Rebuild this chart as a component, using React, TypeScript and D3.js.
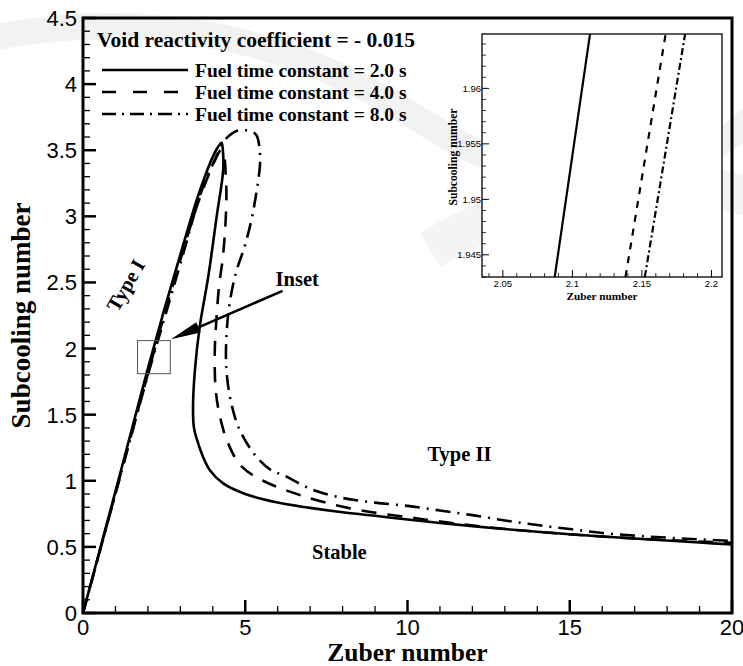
import React from "react";
import * as d3 from "d3";

const W = 743;
const H = 666;

// Stability boundaries in the Zuber–subcooling plane, one loop per fuel time constant
const zuberTau2 = [0, 0.5, 1.0, 1.5, 2.0, 2.5, 3.0, 3.5, 3.8, 4.0, 4.15, 4.27, 4.31, 4.32, 4.12, 3.86, 3.6, 3.45, 3.39, 3.42, 3.5, 3.7, 3.91, 4.32, 5.0, 6.0, 7.0, 8.0, 9.0, 10, 11, 12, 13, 14, 15, 16, 17, 18, 19, 20];
const subTau2 = [0, 0.46, 0.92, 1.385, 1.85, 2.29, 2.71, 3.12, 3.33, 3.45, 3.52, 3.557, 3.5, 3.35, 3.0, 2.544, 2.17, 1.84, 1.54, 1.4, 1.32, 1.18, 1.08, 0.98, 0.9, 0.835, 0.795, 0.762, 0.735, 0.707, 0.681, 0.657, 0.635, 0.614, 0.596, 0.579, 0.563, 0.548, 0.533, 0.518];

const zuberTau4 = [0, 1.0, 2.0, 2.5, 3.0, 3.5, 3.9, 4.1, 4.25, 4.35, 4.4, 4.42, 4.38, 4.3, 4.2, 4.11, 4.06, 4.09, 4.22, 4.47, 4.88, 5.55, 6.68, 8.22, 10.27, 12.32, 14.37, 16.42, 18.0, 20];
const subTau4 = [0, 0.905, 1.81, 2.25, 2.67, 3.07, 3.33, 3.44, 3.5, 3.45, 3.3, 3.16, 2.9, 2.67, 2.49, 2.216, 1.967, 1.687, 1.485, 1.284, 1.11, 1.0, 0.893, 0.792, 0.716, 0.653, 0.607, 0.572, 0.552, 0.53];

const zuberTau8 = [0, 1.0, 2.0, 2.5, 3.0, 3.65, 4.01, 4.3, 4.47, 4.78, 5.14, 5.34, 5.45, 5.45, 5.34, 5.19, 4.98, 4.72, 4.52, 4.42, 4.42, 4.57, 4.83, 5.34, 5.8, 6.2, 7.0, 8.0, 9.0, 10, 11, 12, 13, 14, 15, 16, 17, 18, 19, 20];
const subTau8 = [0, 0.9, 1.8, 2.22, 2.64, 3.19, 3.4, 3.55, 3.603, 3.65, 3.645, 3.616, 3.48, 3.376, 3.175, 2.973, 2.771, 2.58, 2.343, 2.09, 1.838, 1.586, 1.384, 1.182, 1.08, 1.04, 0.94, 0.87, 0.835, 0.81, 0.775, 0.74, 0.7, 0.665, 0.635, 0.605, 0.585, 0.57, 0.557, 0.545];

// Close-up near Zuber ≈ 2.1, subcooling ≈ 1.95
const insetSub = [1.943, 1.965];
const insetZuberTau2 = [2.0873, 2.1128];
const insetZuberTau4 = [2.1382, 2.1672];
const insetZuberTau8 = [2.1521, 2.1812];

const xTicks = [0, 5, 10, 15, 20];
const yTicks = [0, 0.5, 1, 1.5, 2, 2.5, 3, 3.5, 4, 4.5];
const insetXTicks = [2.05, 2.1, 2.15, 2.2];
const insetYTicks = [1.945, 1.95, 1.955, 1.96];

const legendTitle = "Void reactivity coefficient = - 0.015";
const legendLabels = ["Fuel time constant = 2.0 s", "Fuel time constant = 4.0 s", "Fuel time constant = 8.0 s"];

// Zoom window marked on the main plot, and the pointer to it
const windowZuber = [1.68, 2.69];
const windowSub = [1.81, 2.06];
const arrowFrom = [6.15, 2.436];
const arrowTo = [2.71, 2.07];

const serif = "'Liberation Serif', 'Times New Roman', serif";
const sans = "'Liberation Sans', Arial, sans-serif";

const curveDash = ["none", "15 11", "15 7 2 7"];
const legendDash = ["none", "14 17", "14 6 2 6"];

export default function App() {
  const x = d3.scaleLinear().domain([0, 20]).range([83, 732]);
  const y = d3.scaleLinear().domain([0, 4.5]).range([613, 18]);

  const ix = d3.scaleLinear().domain([2.035, 2.2076]).range([482, 722]);
  const iy = d3.scaleLinear().domain([1.943, 1.9649]).range([277, 34]);

  const line = d3
    .line<[number, number]>()
    .x((d) => x(d[0]))
    .y((d) => y(d[1]))
    .curve(d3.curveCatmullRom.alpha(0.5));

  const series = [
    d3.zip(zuberTau2, subTau2) as [number, number][],
    d3.zip(zuberTau4, subTau4) as [number, number][],
    d3.zip(zuberTau8, subTau8) as [number, number][],
  ];
  const insetSeries = [insetZuberTau2, insetZuberTau4, insetZuberTau8];

  const xMinor = d3.range(0, 20.001, 1).filter((v) => v % 5 !== 0);
  const yMinor = d3.range(0, 4.5001, 0.1).filter((v) => Math.abs(v * 2 - Math.round(v * 2)) > 1e-6);
  const ixMinor = d3.range(2.04, 2.2076, 0.01).filter((v) => Math.abs(v * 20 - Math.round(v * 20)) > 1e-6);
  const iyMinor = d3.range(1.943, 1.9649, 0.001).filter((v) => Math.abs(v * 200 - Math.round(v * 200)) > 1e-6);

  // Arrow geometry
  const ax0 = x(arrowFrom[0]);
  const ay0 = y(arrowFrom[1]);
  const ax1 = x(arrowTo[0]);
  const ay1 = y(arrowTo[1]);
  const ang = Math.atan2(ay1 - ay0, ax1 - ax0);
  const headLen = 30;
  const headHalf = 5.5;
  const bx = ax1 - headLen * Math.cos(ang);
  const by = ay1 - headLen * Math.sin(ang);
  const head = [
    [ax1, ay1],
    [bx + headHalf * Math.sin(ang), by - headHalf * Math.cos(ang)],
    [bx - headHalf * Math.sin(ang), by + headHalf * Math.cos(ang)],
  ];

  return (
    <svg
      width={W}
      height={H}
      style={{ position: "absolute", left: 0, top: 0, background: "#fff" }}
      xmlns="http://www.w3.org/2000/svg"
    >
      <defs>
        <clipPath id="main-clip">
          <rect x={83} y={18} width={649} height={595} />
        </clipPath>
        <clipPath id="inset-clip">
          <rect x={482} y={34} width={240} height={243} />
        </clipPath>
      </defs>
      <rect x={0} y={0} width={W} height={H} fill="#fff" />

      {/* faint background bands */}
      <g opacity={0.5}>
        <path d="M -20 40 Q 220 -10 420 120 T 760 110" fill="none" stroke="#e6e6e6" strokeWidth={26} />
        <path d="M 430 250 Q 600 150 760 200" fill="none" stroke="#ebebeb" strokeWidth={40} />
      </g>

      {/* curves */}
      <g clipPath="url(#main-clip)">
        {series.map((s, i) => (
          <path
            key={i}
            d={line(s) ?? ""}
            fill="none"
            stroke="#000"
            strokeWidth={2.6}
            strokeDasharray={curveDash[i]}
            strokeLinejoin="round"
          />
        ))}
      </g>

      {/* zoom window and arrow */}
      <rect
        x={x(windowZuber[0])}
        y={y(windowSub[1])}
        width={x(windowZuber[1]) - x(windowZuber[0])}
        height={y(windowSub[0]) - y(windowSub[1])}
        fill="none"
        stroke="#555"
        strokeWidth={1}
      />
      <line x1={ax0} y1={ay0} x2={bx} y2={by} stroke="#000" strokeWidth={2.6} />
      <polygon points={head.map((p) => p.join(",")).join(" ")} fill="#000" />

      {/* region labels */}
      <text x={x(arrowFrom[0]) - 7} y={y(2.47)} fontFamily={serif} fontWeight="bold" fontSize={20.5}>
        Inset
      </text>
      <text
        transform={`translate(${x(1.38)},${y(2.47)}) rotate(-60)`}
        textAnchor="middle"
        dominantBaseline="middle"
        fontFamily={serif}
        fontWeight="bold"
        fontSize={20.5}
      >
        Type I
      </text>
      <text x={x(11.6)} y={y(1.15)} textAnchor="middle" fontFamily={serif} fontWeight="bold" fontSize={20.5}>
        Type II
      </text>
      <text x={x(7.9)} y={y(0.41)} textAnchor="middle" fontFamily={serif} fontWeight="bold" fontSize={20.5}>
        Stable
      </text>

      {/* legend */}
      <text x={97} y={47} fontFamily={serif} fontWeight="bold" fontSize={21.5}>
        {legendTitle}
      </text>
      {legendLabels.map((lab, i) => (
        <g key={lab} transform={`translate(0,${70 + i * 22})`}>
          <line x1={102} x2={188} y1={0} y2={0} stroke="#000" strokeWidth={2.6} strokeDasharray={legendDash[i]} />
          <text x={195} y={6.5} fontFamily={serif} fontWeight="bold" fontSize={19.5}>
            {lab}
          </text>
        </g>
      ))}

      {/* main axes */}
      <g>
        {xTicks.map((t) => (
          <g key={`xt${t}`}>
            <line x1={x(t)} x2={x(t)} y1={613} y2={600} stroke="#000" strokeWidth={2.5} />
            <text x={x(t)} y={635} textAnchor="middle" fontFamily={sans} fontSize={22}>
              {t}
            </text>
          </g>
        ))}
        {xMinor.map((t) => (
          <line key={`xm${t}`} x1={x(t)} x2={x(t)} y1={613} y2={606} stroke="#000" strokeWidth={1.3} />
        ))}
        {yTicks.map((t) => (
          <g key={`yt${t}`}>
            <line x1={83} x2={96} y1={y(t)} y2={y(t)} stroke="#000" strokeWidth={2.5} />
            <text x={77} y={y(t) + 8} textAnchor="end" fontFamily={sans} fontSize={22}>
              {t}
            </text>
          </g>
        ))}
        {yMinor.map((t) => (
          <line key={`ym${t.toFixed(2)}`} x1={83} x2={90} y1={y(t)} y2={y(t)} stroke="#000" strokeWidth={1.3} />
        ))}
        <rect x={83} y={18} width={649} height={595} fill="none" stroke="#000" strokeWidth={3} />
        <text x={x(10)} y={661} textAnchor="middle" fontFamily={serif} fontWeight="bold" fontSize={25.5}>
          Zuber number
        </text>
        <text
          transform={`translate(30,${y(2.25)}) rotate(-90)`}
          textAnchor="middle"
          fontFamily={serif}
          fontWeight="bold"
          fontSize={27}
        >
          Subcooling number
        </text>
      </g>

      {/* inset */}
      <g>
        <rect x={482} y={34} width={240} height={243} fill="#fff" />
        <g clipPath="url(#inset-clip)">
          {insetSeries.map((s, i) => (
            <line
              key={i}
              x1={ix(s[0])}
              y1={iy(insetSub[0])}
              x2={ix(s[1])}
              y2={iy(insetSub[1])}
              stroke="#000"
              strokeWidth={2.2}
              strokeDasharray={i === 0 ? "none" : i === 1 ? "7 7" : "7 3 2 3"}
            />
          ))}
        </g>
        {ixMinor.map((t) => (
          <line key={`ixm${t.toFixed(3)}`} x1={ix(t)} x2={ix(t)} y1={277} y2={273} stroke="#000" strokeWidth={0.8} />
        ))}
        {insetXTicks.map((t) => (
          <g key={`ixt${t}`}>
            <line x1={ix(t)} x2={ix(t)} y1={277} y2={270} stroke="#000" strokeWidth={1} />
            <text x={ix(t)} y={287} textAnchor="middle" fontFamily={sans} fontSize={9.5}>
              {t}
            </text>
          </g>
        ))}
        {iyMinor.map((t) => (
          <line key={`iym${t.toFixed(4)}`} x1={482} x2={486} y1={iy(t)} y2={iy(t)} stroke="#000" strokeWidth={0.8} />
        ))}
        {insetYTicks.map((t) => (
          <g key={`iyt${t}`}>
            <line x1={482} x2={489} y1={iy(t)} y2={iy(t)} stroke="#000" strokeWidth={1} />
            <text x={481} y={iy(t) + 3.5} textAnchor="end" fontFamily={sans} fontSize={9.5}>
              {t}
            </text>
          </g>
        ))}
        <rect x={482} y={34} width={240} height={243} fill="none" stroke="#000" strokeWidth={1.3} />
        <text x={602} y={300} textAnchor="middle" fontFamily={serif} fontWeight="bold" fontSize={11.3}>
          Zuber number
        </text>
        <text
          transform={`translate(457,${157}) rotate(-90)`}
          textAnchor="middle"
          fontFamily={serif}
          fontWeight="bold"
          fontSize={11.6}
        >
          Subcooling number
        </text>
      </g>
    </svg>
  );
}
